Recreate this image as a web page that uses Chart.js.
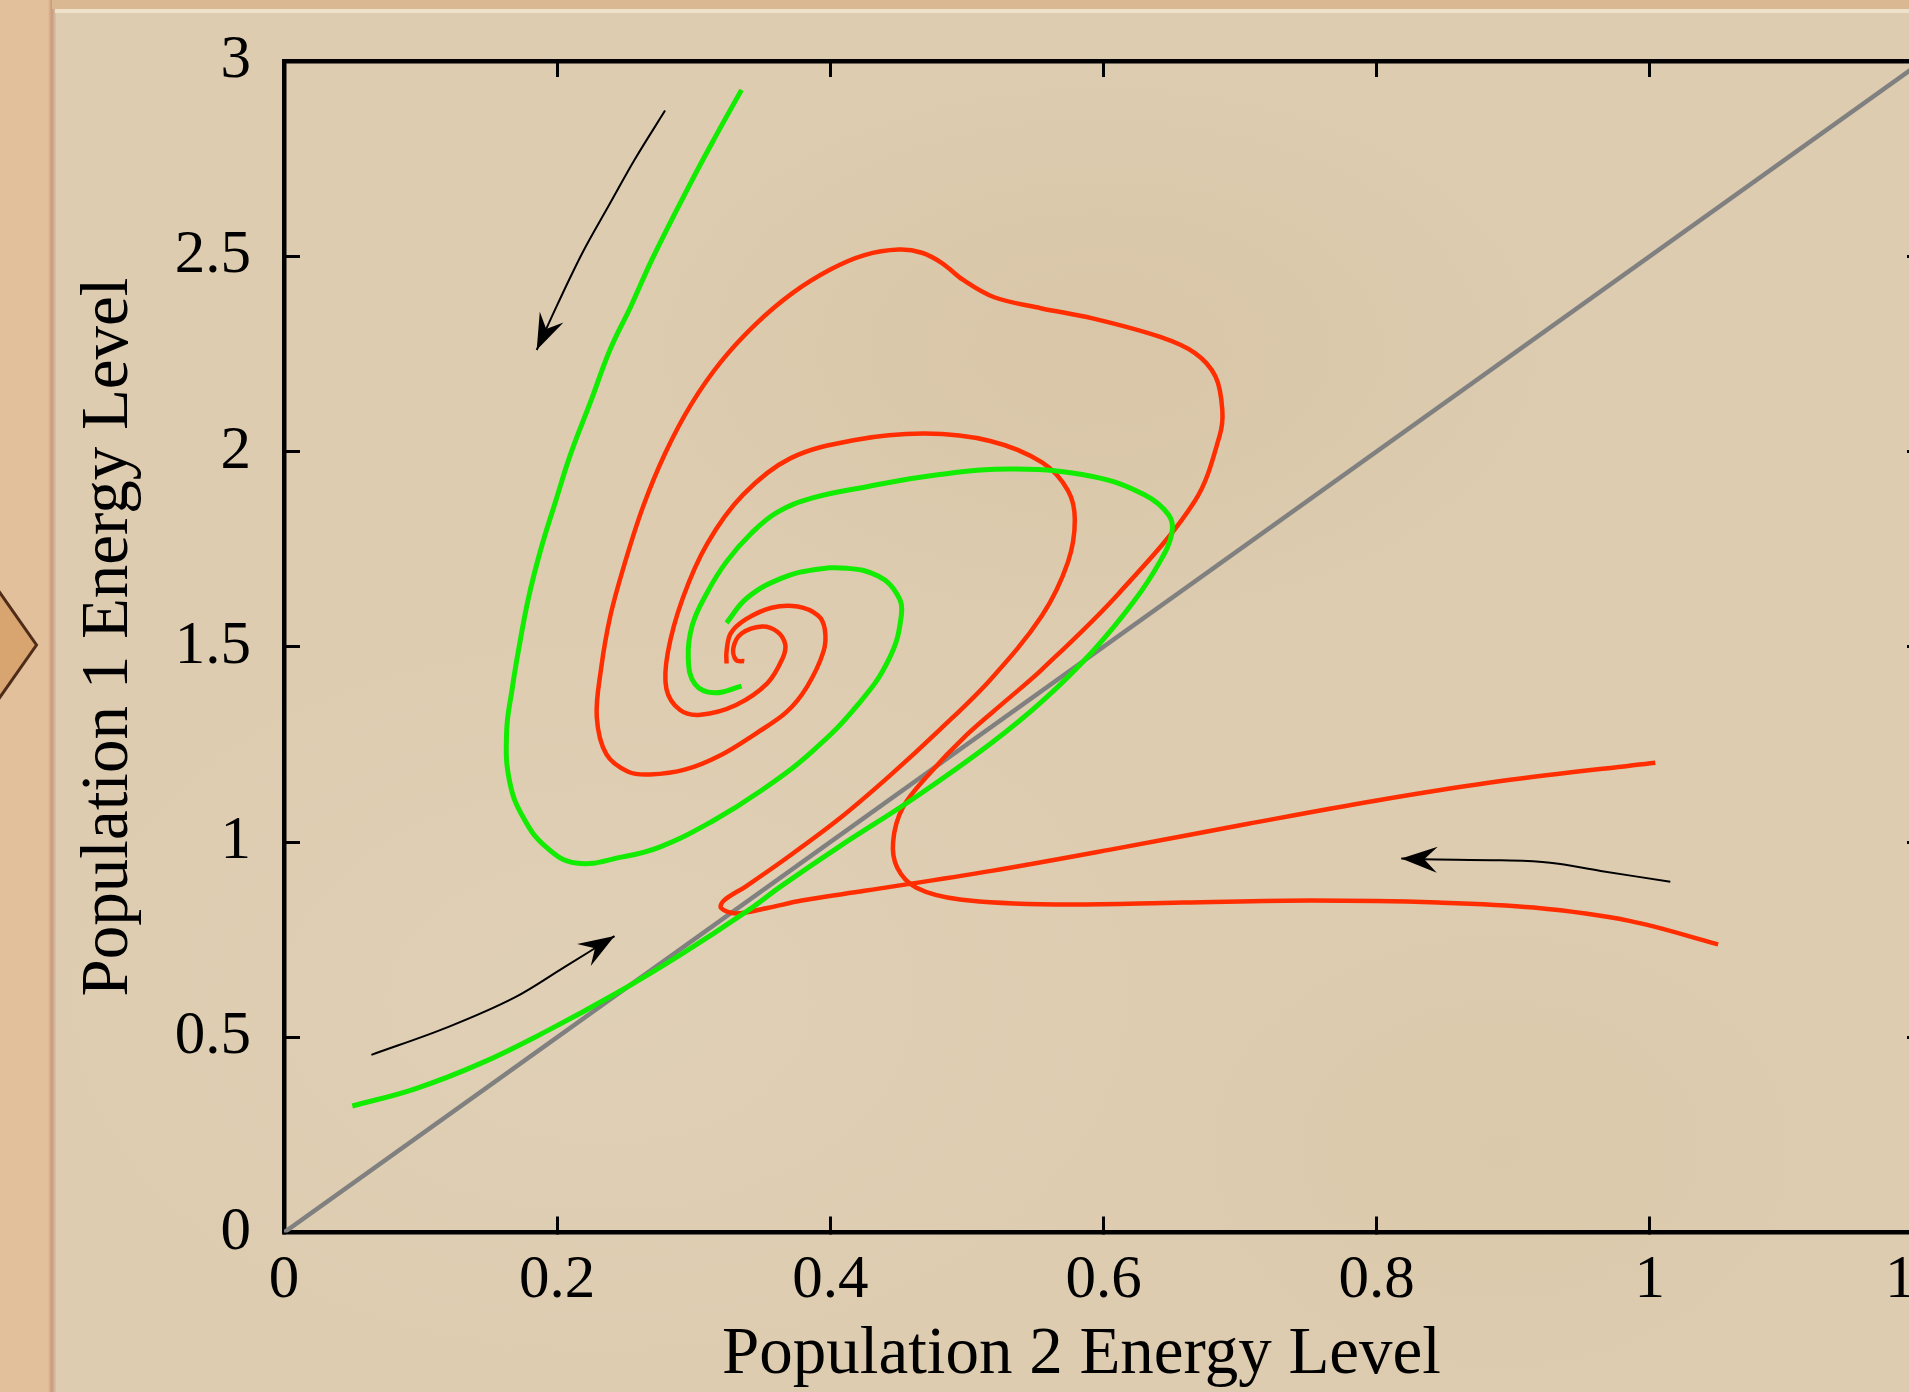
<!DOCTYPE html>
<html>
<head>
<meta charset="utf-8">
<script src="https://cdn.jsdelivr.net/npm/chart.js"></script>
<style>
  html, body { margin:0; padding:0; }
  body { width:1909px; height:1392px; overflow:hidden; position:relative;
    background:
      radial-gradient(ellipse 500px 300px at 1100px 350px, rgba(200,170,130,0.18), rgba(0,0,0,0)),
      radial-gradient(ellipse 400px 300px at 1500px 1150px, rgba(210,185,145,0.15), rgba(0,0,0,0)),
      radial-gradient(ellipse 600px 400px at 600px 1000px, rgba(235,222,200,0.2), rgba(0,0,0,0)),
      #DDCCB0; }
  #leftStrip { position:absolute; left:0; top:0; width:52px; height:1392px; background:#E2C09C; }
  #leftEdge { position:absolute; left:48px; top:0; width:8px; height:1392px;
    background:linear-gradient(to right, rgba(190,120,95,0.0), rgba(185,115,90,0.55), rgba(205,160,130,0.2)); }
  #topStrip { position:absolute; left:52px; top:0; right:0; height:9px; background:#D9B892; }
  #topLine { position:absolute; left:55px; top:9px; right:0; height:4px; background:#EEE2CB; }
  #chev { position:absolute; left:0; top:560px; }
  #wrap { position:absolute; left:0; top:0; width:1960px; height:1392px; }
</style>
</head>
<body>
<div id="leftStrip"></div>
<div id="leftEdge"></div>
<div id="topStrip"></div>
<div id="topLine"></div>
<svg id="chev" width="60" height="170" viewBox="0 0 60 170">
  <polygon points="-30,-10 36.5,85 -30,180" fill="#D8A571" stroke="#4E2C18" stroke-width="3"/>
</svg>
<div id="wrap"><canvas id="c" width="1960" height="1392"></canvas></div>
<script>
// ---- tick labels ----
const xTickLabels = ['0', '0.2', '0.4', '0.6', '0.8', '1', '1.2'];
const yTickLabels = ['0', '0.5', '1', '1.5', '2', '2.5', '3'];
const xAxisTitle = 'Population 2 Energy Level';
const yAxisTitle = 'Population 1 Energy Level';

// ---- reference diagonal ----
const diagX = [0, 1.2];
const diagY = [0, 3];

// ---- green trajectory starting at the top ----
const greenTopX = [0.335, 0.316, 0.297, 0.270, 0.254, 0.239, 0.224, 0.210, 0.199, 0.188, 0.179, 0.172, 0.167, 0.163, 0.165, 0.175, 0.192, 0.214, 0.248, 0.275, 0.313, 0.350, 0.387, 0.420, 0.443, 0.452, 0.449, 0.435, 0.412, 0.388, 0.364, 0.339, 0.324];
const greenTopY = [2.926, 2.807, 2.683, 2.496, 2.372, 2.263, 2.123, 1.995, 1.874, 1.749, 1.625, 1.497, 1.391, 1.282, 1.158, 1.064, 0.987, 0.946, 0.962, 0.987, 1.052, 1.133, 1.233, 1.351, 1.469, 1.581, 1.634, 1.681, 1.701, 1.697, 1.675, 1.625, 1.561];

// ---- green trajectory starting at the bottom left ----
const greenLowX = [0.050, 0.096, 0.144, 0.193, 0.242, 0.291, 0.339, 0.364, 0.406, 0.462, 0.517, 0.555, 0.592, 0.622, 0.641, 0.650, 0.648, 0.630, 0.592, 0.536, 0.480, 0.424, 0.387, 0.361, 0.342, 0.324, 0.310, 0.299, 0.296, 0.301, 0.315, 0.335];
const greenLowY = [0.324, 0.368, 0.433, 0.517, 0.610, 0.713, 0.823, 0.887, 0.987, 1.114, 1.251, 1.360, 1.488, 1.615, 1.716, 1.790, 1.836, 1.889, 1.936, 1.955, 1.941, 1.908, 1.881, 1.844, 1.790, 1.718, 1.640, 1.556, 1.469, 1.404, 1.382, 1.399];

// ---- red trajectory starting at (1.0, 1.2) ----
const redUpX = [1.004, 0.891, 0.798, 0.705, 0.612, 0.518, 0.425, 0.379, 0.354, 0.331, 0.320, 0.322, 0.338, 0.368, 0.406, 0.443, 0.480, 0.517, 0.555, 0.574, 0.579, 0.574, 0.555, 0.517, 0.469, 0.417, 0.371, 0.336, 0.310, 0.292, 0.281, 0.280, 0.290, 0.305, 0.331, 0.354, 0.365, 0.367, 0.361, 0.350, 0.335, 0.329, 0.331, 0.337];
const redUpY = [1.203, 1.156, 1.105, 1.046, 0.985, 0.926, 0.875, 0.850, 0.831, 0.817, 0.831, 0.850, 0.886, 0.959, 1.058, 1.168, 1.287, 1.415, 1.580, 1.717, 1.825, 1.900, 1.972, 2.027, 2.046, 2.029, 1.983, 1.889, 1.765, 1.625, 1.485, 1.392, 1.338, 1.326, 1.351, 1.407, 1.470, 1.506, 1.539, 1.552, 1.534, 1.497, 1.466, 1.463];

// ---- red trajectory starting at (1.05, 0.74) ----
const redLowX = [1.050, 0.985, 0.915, 0.845, 0.752, 0.658, 0.565, 0.495, 0.463, 0.449, 0.446, 0.453, 0.472, 0.500, 0.528, 0.555, 0.611, 0.667, 0.685, 0.687, 0.682, 0.667, 0.641, 0.592, 0.554, 0.520, 0.497, 0.482, 0.467, 0.450, 0.425, 0.400, 0.372, 0.345, 0.320, 0.298, 0.279, 0.263, 0.250, 0.239, 0.232, 0.229, 0.236, 0.252, 0.268, 0.294, 0.320, 0.346, 0.368, 0.383, 0.395, 0.396, 0.391, 0.376, 0.357, 0.338, 0.327, 0.324, 0.324];
const redLowY = [0.738, 0.798, 0.832, 0.845, 0.850, 0.845, 0.840, 0.853, 0.883, 0.934, 1.002, 1.088, 1.173, 1.275, 1.360, 1.442, 1.636, 1.874, 2.040, 2.106, 2.192, 2.252, 2.294, 2.341, 2.367, 2.395, 2.440, 2.482, 2.509, 2.517, 2.503, 2.466, 2.405, 2.325, 2.230, 2.120, 1.995, 1.860, 1.720, 1.580, 1.440, 1.320, 1.225, 1.180, 1.173, 1.186, 1.223, 1.279, 1.333, 1.398, 1.488, 1.544, 1.580, 1.603, 1.600, 1.570, 1.534, 1.488, 1.457];

// ---- direction arrows ----
const arrow1X = [0.279, 0.257, 0.238, 0.219, 0.200, 0.185];
const arrow1Y = [2.873, 2.749, 2.631, 2.512, 2.375, 2.260];
const arrow2X = [0.064, 0.120, 0.169, 0.205, 0.242];
const arrow2Y = [0.455, 0.526, 0.602, 0.679, 0.759];
const arrow3X = [1.015, 0.964, 0.927, 0.891, 0.834, 0.818];
const arrow3Y = [0.898, 0.926, 0.947, 0.953, 0.956, 0.958];

function pts(xs, ys) { return xs.map((x, i) => ({ x: x, y: ys[i] })); }

const GREEN = '#12EC00';
const RED = '#FF2D00';
const GRAY = '#808080';
const SERIF = "'Liberation Serif', 'Times New Roman', serif";

function curve(label, xs, ys, color, width, order, extra) {
  return Object.assign({
    label: label, data: pts(xs, ys), showLine: true, borderColor: color,
    backgroundColor: color, borderWidth: width, pointRadius: 0, pointHoverRadius: 0,
    tension: 0.35, order: order, borderCapStyle: 'butt', borderJoinStyle: 'round'
  }, extra || {});
}

const datasets = [
  curve('diagonal', diagX, diagY, GRAY, 4.5, 5, { tension: 0 }),
  curve('red 1', redUpX, redUpY, RED, 4.5, 3),
  curve('red 2', redLowX, redLowY, RED, 4.5, 3),
  curve('green 1', greenTopX, greenTopY, GREEN, 5, 2, { tension: 0.42 }),
  curve('green 2', greenLowX, greenLowY, GREEN, 5, 2, { tension: 0.4 }),
  curve('arrow 1', arrow1X, arrow1Y, '#000', 2, 1, { arrowHead: true }),
  curve('arrow 2', arrow2X, arrow2Y, '#000', 2, 1, { arrowHead: true }),
  curve('arrow 3', arrow3X, arrow3Y, '#000', 2, 1, { arrowHead: true })
];

const arrowHeadPlugin = {
  id: 'arrowHeads',
  afterDatasetsDraw(chart) {
    const ctx = chart.ctx;
    chart.data.datasets.forEach((ds, i) => {
      if (!ds.arrowHead) return;
      const meta = chart.getDatasetMeta(i);
      const n = meta.data.length;
      const tip = meta.data[n - 1], prev = meta.data[n - 2];
      let dx = tip.x - prev.x, dy = tip.y - prev.y;
      const len = Math.hypot(dx, dy); dx /= len; dy /= len;
      const L = 36, W = 13, notch = 23;
      const nx = -dy, ny = dx;
      ctx.save();
      ctx.fillStyle = '#000';
      ctx.beginPath();
      ctx.moveTo(tip.x, tip.y);
      ctx.lineTo(tip.x - L * dx + W * nx, tip.y - L * dy + W * ny);
      ctx.lineTo(tip.x - notch * dx, tip.y - notch * dy);
      ctx.lineTo(tip.x - L * dx - W * nx, tip.y - L * dy - W * ny);
      ctx.closePath();
      ctx.fill();
      ctx.restore();
    });
  }
};

const titlePlugin = {
  id: 'axisTitles',
  afterDraw(chart) {
    const ctx = chart.ctx;
    ctx.save();
    ctx.fillStyle = '#000';
    ctx.font = "67px " + SERIF;
    ctx.textAlign = 'center';
    ctx.textBaseline = 'alphabetic';
    ctx.fillText(xAxisTitle, 1081.5, 1373);
    ctx.translate(127, 637);
    ctx.rotate(-Math.PI / 2);
    ctx.fillText(yAxisTitle, 0, 0);
    ctx.restore();
  }
};

function labelFor(list) {
  return function (value) {
    const hit = list.find(l => Math.abs(parseFloat(l) - value) < 1e-6);
    return hit === undefined ? '' : hit;
  };
}

const tickFont = { family: SERIF, size: 61 };
const gridOpts = { display: true, drawOnChartArea: false, drawTicks: true, tickLength: -16, tickWidth: 3, tickColor: '#000' };
const borderOpts = { display: true, color: '#000', width: 4.5 };
function noPad(s) { s.paddingLeft = 0; s.paddingRight = 0; s.paddingTop = 0; s.paddingBottom = 0; }

new Chart(document.getElementById('c'), {
  type: 'scatter',
  data: { datasets: datasets },
  options: {
    responsive: false,
    animation: false,
    devicePixelRatio: 1,
    layout: { padding: { left: 0, top: 60, right: 36, bottom: 0 } },
    plugins: { legend: { display: false }, tooltip: { enabled: false } },
    scales: {
      x: {
        type: 'linear', position: 'bottom', min: 0, max: 1.2,
        ticks: { stepSize: 0.2, color: '#000', font: tickFont, padding: 28, maxRotation: 0, autoSkip: false, callback: labelFor(xTickLabels) },
        grid: gridOpts, border: borderOpts,
        afterFit: s => { s.height = 159.5; noPad(s); }
      },
      x2: {
        type: 'linear', position: 'top', min: 0, max: 1.2,
        ticks: { stepSize: 0.2, display: false },
        grid: gridOpts, border: borderOpts,
        afterFit: s => { s.height = 1; noPad(s); }
      },
      y: {
        type: 'linear', position: 'left', min: 0, max: 3,
        ticks: { stepSize: 0.5, color: '#000', font: tickFont, padding: 49, autoSkip: false, callback: labelFor(yTickLabels) },
        grid: gridOpts, border: borderOpts,
        afterFit: s => { s.width = 284; noPad(s); }
      },
      y2: {
        type: 'linear', position: 'right', min: 0, max: 3,
        ticks: { stepSize: 0.5, display: false },
        grid: gridOpts, border: borderOpts,
        afterFit: s => { s.width = 1; noPad(s); }
      }
    }
  },
  plugins: [arrowHeadPlugin, titlePlugin]
});
</script>
</body>
</html>
